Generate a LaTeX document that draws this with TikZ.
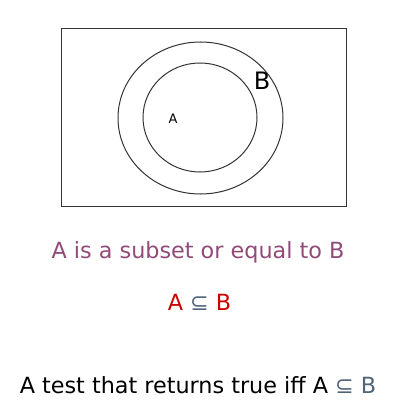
\documentclass[tikz,border=0pt]{standalone}
\usepackage{fontspec}
\setmainfont{DejaVu Sans}
\usepackage{xcolor}
\usetikzlibrary{shapes.geometric,positioning}
\definecolor{linegray}{RGB}{51,51,51}
\definecolor{mauve}{RGB}{145,75,120}
\definecolor{darkred}{RGB}{204,0,0}
\definecolor{slate}{RGB}{80,100,120}

\begin{document}
\begin{tikzpicture}[x=1pt, y=-1pt,
  setline/.style={draw=linegray, line width=1pt, inner sep=0pt},
  caption/.style={font=\fontsize{22.3}{26}\selectfont, inner sep=0pt}]
\path[use as bounding box] (0,0) rectangle (412,420);
% venn part
\node[setline, rectangle, minimum width=285pt, minimum height=177pt] (frame) at (203.5,117.5) {};
\node[setline, ellipse, minimum width=165pt, minimum height=152pt] (setB) at (200.5,118) {};
\node[setline, ellipse, minimum width=114pt, minimum height=109pt] (setA) at (200,117.5) {};
\node[font=\fontsize{13}{15}\selectfont] (labA) at (173,119) {A};
\node[font=\fontsize{24}{27}\selectfont] (labB) at (262,81) {B};
% text lines
\node[caption, text=mauve] (desc) at (198,252) {A is a subset or equal to B};
\node[caption, text=darkred] (rel) at (199.5,302) {A \textcolor{slate}{⊆} B};
\node[caption] (test) at (198,385) {A test that returns true iff A \textcolor{slate}{⊆ B}};
\end{tikzpicture}
\end{document}
